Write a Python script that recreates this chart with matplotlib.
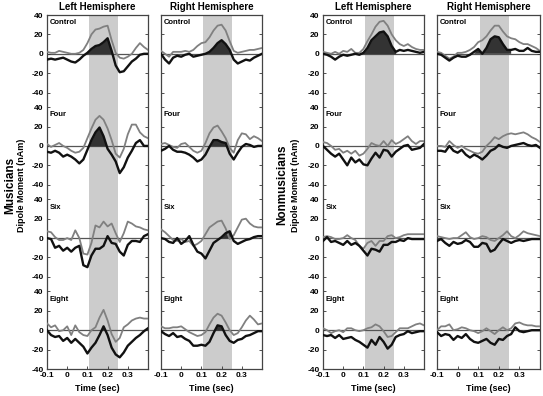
import numpy as np
import matplotlib
matplotlib.use("Agg")
from matplotlib import pyplot as plt

plt.rcParams['font.family'] = ['Liberation Sans', 'DejaVu Sans']
plt.rcParams['font.weight'] = 'bold'

# time axis (sec)
t = [-0.10, -0.08, -0.06, -0.04, -0.02, 0.00, 0.02, 0.04, 0.06, 0.08, 0.10, 0.12, 0.14,
     0.16, 0.18, 0.20, 0.22, 0.24, 0.26, 0.28, 0.30, 0.32, 0.34, 0.36, 0.38, 0.40]

conditions = ["Control", "Four", "Six", "Eight"]
window = (0.11, 0.25)

# Musicians, left hemisphere (gray / black curves, nAm)
mus_l_control_gray = [2, 1, 1, 3, 2, 1, 0, 0, 1, 4, 11, 20, 25, 26, 28, 29, 14, 1, -4, -5, -3, 0, 6, 11, 7, 4]
mus_l_control_black = [-6, -5, -6, -5, -4, -6, -8, -9, -6, -2, 1, 5, 8, 9, 12, 16, 3, -12, -19, -18, -13, -8, -5, -1, 0, 0]
mus_l_four_gray = [2, -1, 1, 3, 0, -2, -5, -7, -6, -2, 8, 18, 27, 31, 27, 18, 6, -8, -12, -3, 12, 22, 22, 14, 10, 8]
mus_l_four_black = [-6, -7, -5, -7, -11, -9, -11, -14, -18, -14, -4, 6, 14, 19, 10, -3, -9, -16, -28, -22, -12, -5, 3, 6, 0, 0]
mus_l_six_gray = [7, 6, 1, -2, -2, 0, -2, 8, 0, -16, -17, -5, 13, 11, 17, 12, 15, 5, -4, 5, 17, 15, 12, 11, 9, 8]
mus_l_six_black = [0, -1, -10, -8, -13, -10, -14, -10, -8, -28, -30, -18, -11, -11, -8, 2, -5, -6, -14, -18, -7, -3, -3, -4, 2, 4]
mus_l_eight_gray = [7, 3, 5, -1, 0, 4, -5, 5, -2, -5, -6, 0, 3, 13, 21, 10, -4, -12, -8, 3, 6, 10, 12, 13, 12, 12]
mus_l_eight_black = [0, -5, -7, -6, -11, -8, -13, -9, -13, -17, -24, -18, -13, -5, 4, -5, -18, -25, -28, -23, -16, -12, -8, -5, -1, 2]

# Musicians, right hemisphere
mus_r_control_gray = [3, 0, -3, 2, 2, 2, 3, 2, 4, 8, 11, 12, 17, 24, 29, 30, 24, 13, 3, 1, 2, 3, 4, 4, 5, 6]
mus_r_control_black = [0, -6, -10, -4, -2, -3, -1, 0, -3, -2, -1, 0, 2, 6, 11, 14, 10, 4, -6, -10, -8, -6, -7, -4, -2, 0]
mus_r_four_gray = [2, 3, 1, -1, -2, 2, 3, -1, -5, -7, -5, 3, 13, 19, 21, 15, 8, -2, -7, 6, 13, 12, 7, 10, 8, 5]
mus_r_four_black = [-5, -3, 0, -4, -6, -6, -7, -9, -12, -16, -14, -9, -1, 6, 6, 4, 3, -8, -14, -7, -1, 2, 1, -1, 0, 0]
mus_r_six_gray = [9, 6, 2, -2, -3, -1, -4, -3, -8, -6, -3, 4, 11, 14, 17, 18, 10, -1, 3, 11, 19, 20, 15, 12, 11, 11]
mus_r_six_black = [0, -1, -4, -5, 0, -6, -3, 2, -7, -14, -16, -21, -13, -5, -2, 1, 5, 7, -3, -6, -4, -2, -1, 1, 2, 2]
mus_r_eight_gray = [4, 2, 2, 3, 3, 4, 1, -2, -4, -6, -5, -2, 6, 13, 17, 15, 8, 0, -5, -3, 3, 10, 15, 11, 6, 7]
mus_r_eight_black = [-1, -4, -6, -3, -7, -6, -9, -11, -16, -16, -15, -16, -12, -3, 5, 4, -5, -11, -13, -10, -9, -6, -5, -3, -1, -1]

# Nonmusicians, left hemisphere
non_l_control_gray = [2, 1, 0, 2, 0, 3, 2, 5, 1, 1, 5, 13, 20, 28, 33, 34, 29, 20, 14, 10, 8, 10, 7, 5, 4, 4]
non_l_control_black = [0, -1, -3, -6, -3, -1, -2, -1, 0, -1, 1, 6, 14, 18, 22, 23, 18, 8, 2, 4, 3, 4, 3, 2, 1, 2]
non_l_four_gray = [4, 3, 0, -4, -3, -7, -5, -8, -5, -10, -8, -3, 3, 1, 0, 5, 0, 6, 2, 4, 7, 10, 5, 2, 5, 5]
non_l_four_black = [0, -4, -8, -11, -8, -14, -20, -12, -17, -14, -19, -20, -13, -7, -12, -4, -5, -11, -6, -3, 0, 1, -4, -3, -2, 2]
non_l_six_gray = [1, 2, 1, -1, -1, 0, 3, 0, -2, -8, -11, -5, -3, -8, -3, -3, 2, 3, 0, 1, 3, 4, 4, 4, 4, 4]
non_l_six_black = [-3, 1, -4, -3, -5, -7, -3, -7, -5, -8, -13, -18, -11, -12, -14, -7, -7, -4, -4, -2, -3, 0, -1, -1, -1, -1]
non_l_eight_gray = [2, 0, -3, -1, 0, -2, 2, 2, 0, -1, 0, 2, 3, 6, 4, -1, -7, -6, -2, 2, 2, 2, 4, 6, 7, 5]
non_l_eight_black = [-5, -6, -5, -8, -5, -9, -8, -7, -10, -12, -15, -18, -10, -15, -7, -12, -19, -15, -7, -5, -4, -1, -3, -2, -1, -1]

# Nonmusicians, right hemisphere
non_r_control_gray = [2, 1, -2, -5, -3, 1, 1, 2, 4, 7, 12, 14, 18, 24, 29, 29, 23, 18, 16, 15, 12, 10, 10, 8, 6, 3]
non_r_control_black = [0, -1, -4, -7, -4, -2, -3, -3, -1, 2, 5, 0, 6, 15, 18, 17, 10, 4, 4, 5, 3, 3, 6, 3, 2, 2]
non_r_four_gray = [0, 0, -1, 5, 1, -2, 0, -3, -5, -7, -8, -6, 0, 4, 9, 7, 10, 12, 13, 12, 13, 14, 12, 9, 7, 4]
non_r_four_black = [-5, -5, -6, 0, -5, -7, -4, -9, -12, -9, -11, -14, -10, -5, -3, 1, -1, -2, 0, 1, 2, 3, 1, 0, 1, -2]
non_r_six_gray = [2, 1, 0, -1, 0, 0, 3, 6, 1, -1, 0, 2, 1, -2, -3, 0, 3, 7, 2, 0, 3, 7, 5, 4, 3, 2]
non_r_six_black = [-3, -1, -5, -8, -4, -6, -5, -2, -4, -9, -9, -5, -6, -14, -12, -6, -1, -3, -5, -3, -2, -3, -2, -1, -1, -1]
non_r_eight_gray = [0, 4, 4, 6, 0, 1, 3, 2, 0, -1, -3, -1, 2, -1, -4, 0, 3, 0, 2, 7, 8, 6, 5, 5, 4, 4]
non_r_eight_black = [-2, -6, -4, -5, -10, -6, -8, -4, -9, -12, -13, -11, -9, -13, -15, -9, -10, -6, -4, 3, -1, -2, -1, 0, 0, 0]

panels = [
    ("Left Hemisphere", [(mus_l_control_gray, mus_l_control_black), (mus_l_four_gray, mus_l_four_black),
                         (mus_l_six_gray, mus_l_six_black), (mus_l_eight_gray, mus_l_eight_black)]),
    ("Right Hemisphere", [(mus_r_control_gray, mus_r_control_black), (mus_r_four_gray, mus_r_four_black),
                          (mus_r_six_gray, mus_r_six_black), (mus_r_eight_gray, mus_r_eight_black)]),
    ("Left Hemisphere", [(non_l_control_gray, non_l_control_black), (non_l_four_gray, non_l_four_black),
                         (non_l_six_gray, non_l_six_black), (non_l_eight_gray, non_l_eight_black)]),
    ("Right Hemisphere", [(non_r_control_gray, non_r_control_black), (non_r_four_gray, non_r_four_black),
                          (non_r_six_gray, non_r_six_black), (non_r_eight_gray, non_r_eight_black)]),
]

W, H = 543, 396
fig = plt.figure(figsize=(W / 100, H / 100), dpi=100)

# panel left/right edges in pixels
lefts = [47, 161, 323, 437]
rights = [148, 262, 424, 540]
top_px, bot_px = 15, 369
step = 95  # vertical offset between stacked conditions

tt = np.array(t)
for i, (title, curves) in enumerate(panels):
    ax = fig.add_axes([lefts[i] / W, 1 - bot_px / H, (rights[i] - lefts[i]) / W, (bot_px - top_px) / H])
    ax.axvspan(window[0], window[1], color='#cccccc', lw=0, zorder=0)
    ticks, labels = [], []
    for k, (g, b) in enumerate(curves):
        off = -step * k
        g = np.array(g, float)
        b = np.array(b, float)
        ax.axhline(off, color='#555555', lw=0.9, zorder=1)
        mask = (tt >= window[0] - 0.02) & (tt <= window[1] + 0.02)
        ax.fill_between(tt, off, b + off, where=mask & (b > 0), interpolate=True,
                        color='#333333', lw=0, zorder=2)
        ax.plot(tt, g + off, color='#808080', lw=1.3, zorder=3)
        ax.plot(tt, b + off, color='#111111', lw=1.7, zorder=4)
        ax.text(-0.088, off + 32, conditions[k], fontsize=5.5, fontweight='bold', va='center')
        for v in [40, 20, 0, -20, -40]:
            ticks.append(off + v)
            labels.append(str(v))
    ax.set_xlim(-0.1, 0.4)
    ax.set_ylim(-40 - 3 * step, 40)
    ax.set_yticks(ticks)
    ax.set_xticks([-0.1, 0, 0.1, 0.2, 0.3])
    ax.set_xticklabels(["-0.1", "0", "0.1", "0.2", "0.3"])
    if i in (0, 2):
        ax.set_yticklabels(labels)
    else:
        ax.set_yticklabels([])
    ax.tick_params(axis='both', direction='in', length=2, width=0.6, labelsize=6, pad=2.5,
                   right=True, colors='#333333', labelcolor='black')
    for s in ax.spines.values():
        s.set_color('#444444')
        s.set_linewidth(0.9)
    ax.set_title(title, fontsize=7, fontweight='bold', pad=3.5)
    ax.set_xlabel("Time (sec)", fontsize=6.5, fontweight='bold', labelpad=3.5)

fig.text(10 / W, 1 - 185 / H, "Musicians", rotation=90, fontsize=8.5, fontweight='bold', ha='center', va='center')
fig.text(22 / W, 1 - 185 / H, "Dipole Moment (nAm)", rotation=90, fontsize=6.5, fontweight='bold', ha='center', va='center')
fig.text(282 / W, 1 - 185 / H, "Nonmusicians", rotation=90, fontsize=8.5, fontweight='bold', ha='center', va='center')
fig.text(296 / W, 1 - 185 / H, "Dipole Moment (nAm)", rotation=90, fontsize=6.5, fontweight='bold', ha='center', va='center')

fig.savefig("out.png", dpi=100)
